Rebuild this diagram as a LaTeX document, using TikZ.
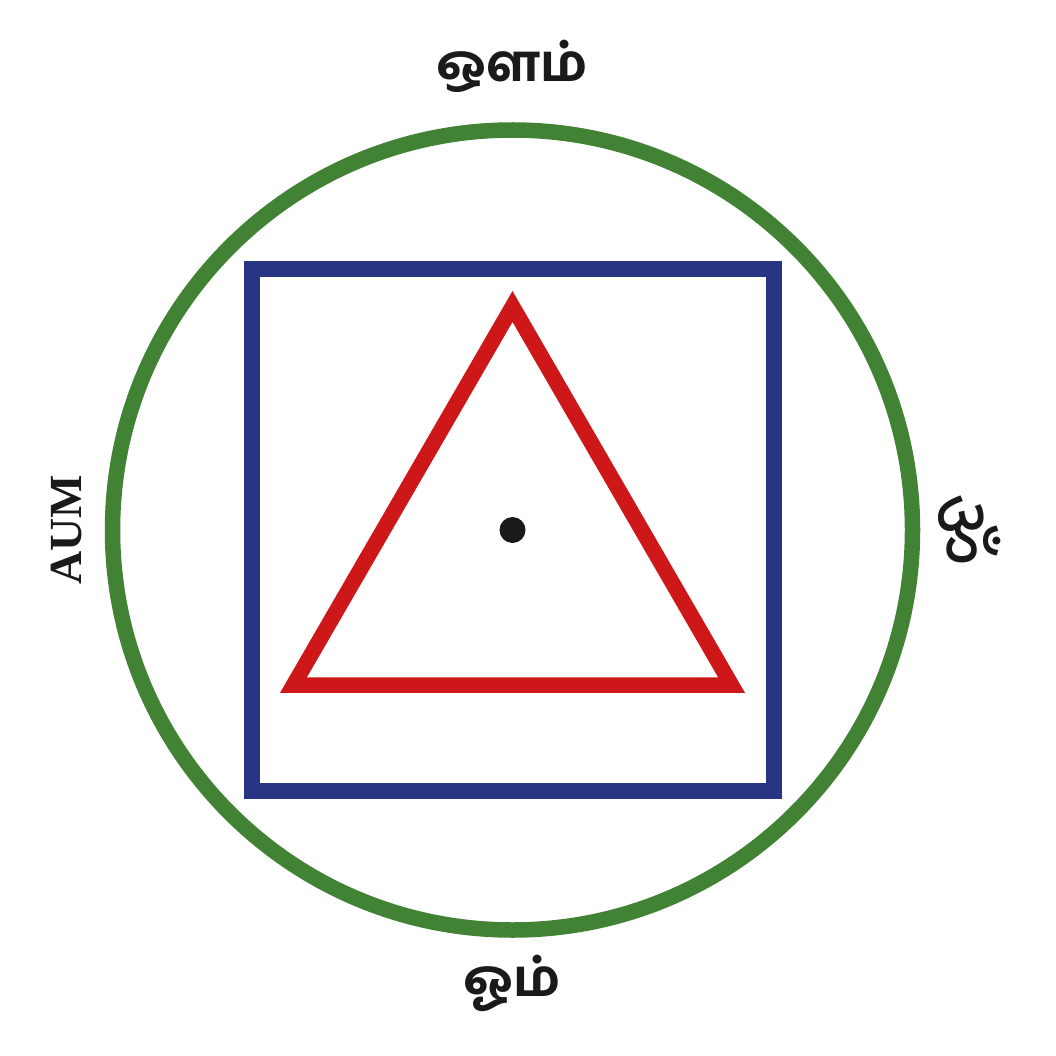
\documentclass[tikz,border=0pt]{standalone}
\usepackage{fontspec}
\newfontfamily\tamilfont[Script=Tamil]{Hind Madurai Bold}
\newfontfamily\devafont[Script=Devanagari]{Noto Sans}
\setmainfont{Liberation Serif}
\definecolor{ringgreen}{HTML}{418234}
\definecolor{sqblue}{HTML}{283583}
\definecolor{trired}{HTML}{CD1719}
\definecolor{inkdark}{HTML}{1A1A1A}
\begin{document}
\begin{tikzpicture}[x=1pt,y=-1pt,
  ring/.style={draw=ringgreen,line width=15.5pt},
  sqbox/.style={draw=sqblue,line width=15.5pt},
  tri/.style={draw=trired,line width=15.5pt,line join=miter},
  lbl/.style={text=inkdark,inner sep=0pt}]
\useasboundingbox (0,0) rectangle (1056,1056);
\coordinate (c) at (512.5,530);
\draw[ring] (c) circle (400);
\draw[sqbox] (252,269) rectangle (774,791);
\coordinate (ta) at (512.5,306.5);
\coordinate (tl) at (293.5,685);
\coordinate (tr) at (731.5,685);
\draw[tri] (ta) -- (tl) -- (tr) -- cycle;
\fill[inkdark] (c) circle (13);
\node[lbl,font=\tamilfont\fontsize{51}{60}\selectfont] (top) at (512,66) {ஔம்};
\node[lbl,font=\tamilfont\fontsize{51}{60}\selectfont] (bottom) at (512,983) {ஓம்};
\node[lbl,rotate=-90,font=\devafont\bfseries\fontsize{80}{90}\selectfont] (om) at (967,530) {ॐ};
\node[lbl,rotate=90,font=\bfseries\fontsize{46}{50}\selectfont] (aum) at (67,530) {AUM};
\end{tikzpicture}
\end{document}
